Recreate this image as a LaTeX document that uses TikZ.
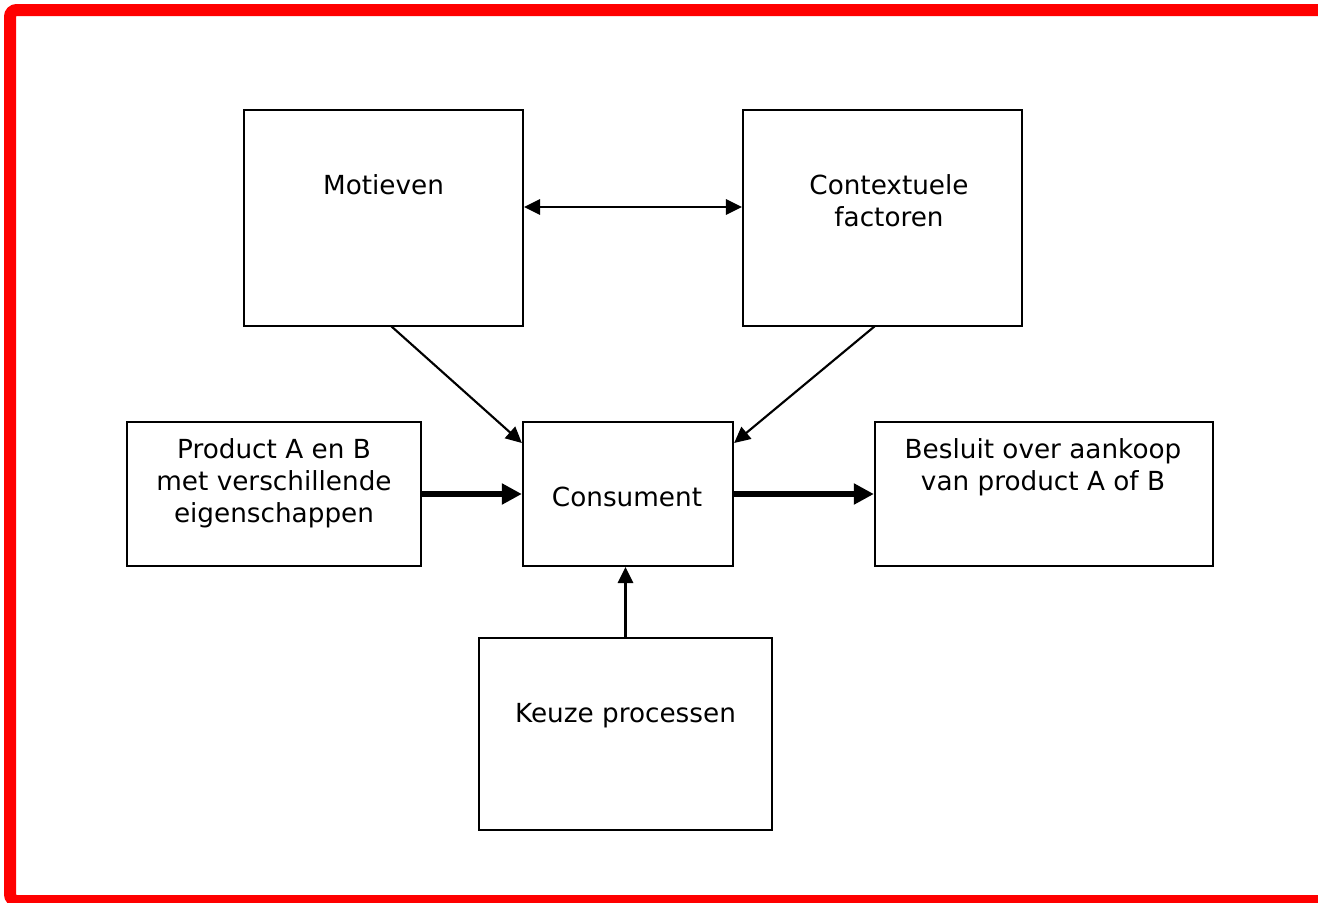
\documentclass[tikz,border=0pt]{standalone}
\usepackage{fontspec}
\setmainfont{DejaVu Sans}
\usetikzlibrary{arrows.meta}
\begin{document}
\begin{tikzpicture}[x=0.75pt,y=-0.75pt,
  box/.style={draw=black, line width=1.7pt, inner sep=0pt},
  txt/.style={anchor=base, align=center, inner sep=0pt,
    font=\fontsize{19.7pt}{24pt}\selectfont},
  thin/.style={line width=1.6pt, -{Triangle[length=12pt,width=11.5pt]}},
  both/.style={line width=1.6pt, {Triangle[length=12pt,width=11.5pt]}-{Triangle[length=12pt,width=11.5pt]}},
  thick/.style={line width=4.3pt, -{Triangle[length=15pt,width=15pt]}}]
\useasboundingbox (0,0) rectangle (1318,903);
\clip (0,0) rectangle (1318,903);
% red frame
\draw[red, line width=9pt, rounded corners=5pt] (10,10) rectangle (1340,901);
% boxes
\node[box, minimum width=209.25pt, minimum height=162pt] (mot) at (383.5,218) {};
\node[box, minimum width=209.25pt, minimum height=162pt] (ctx) at (882.5,218) {};
\node[box, minimum width=220.5pt, minimum height=108pt] (prod) at (274,494) {};
\node[box, minimum width=157.5pt, minimum height=108pt] (cons) at (628,494) {};
\node[box, minimum width=253.5pt, minimum height=108pt] (bes) at (1044,494) {};
\node[box, minimum width=219.75pt, minimum height=144pt] (keu) at (625.5,734) {};
% texts (base anchor = baseline of the last line)
\node[txt] (tmot) at (383.5,194) {Motieven};
\node[txt] (tctx) at (889,226) {Contextuele\\factoren};
\node[txt] (tprod) at (274,522) {Product A en B\\met verschillende\\eigenschappen};
\node[txt] (tcons) at (627,506) {Consument};
\node[txt] (tbes) at (1043,490) {Besluit over aankoop\\van product A of B};
\node[txt] (tkeu) at (625.5,722) {Keuze processen};
% connectors
\draw[both] (mot.east |- 0,207) -- (ctx.west |- 0,207);
\coordinate (m1) at (391,326);
\coordinate (c1) at (875,326);
\draw[thin] (m1) -- (cons.north west |- 0,443);
\draw[thin] (c1) -- (cons.north east |- 0,443);
\draw[thick] (prod.east) -- (cons.west);
\draw[thick] (cons.east) -- (bes.west);
\draw[thin] (keu.north -| 625.5,0) -- (cons.south -| 625.5,0);
\end{tikzpicture}
\end{document}
